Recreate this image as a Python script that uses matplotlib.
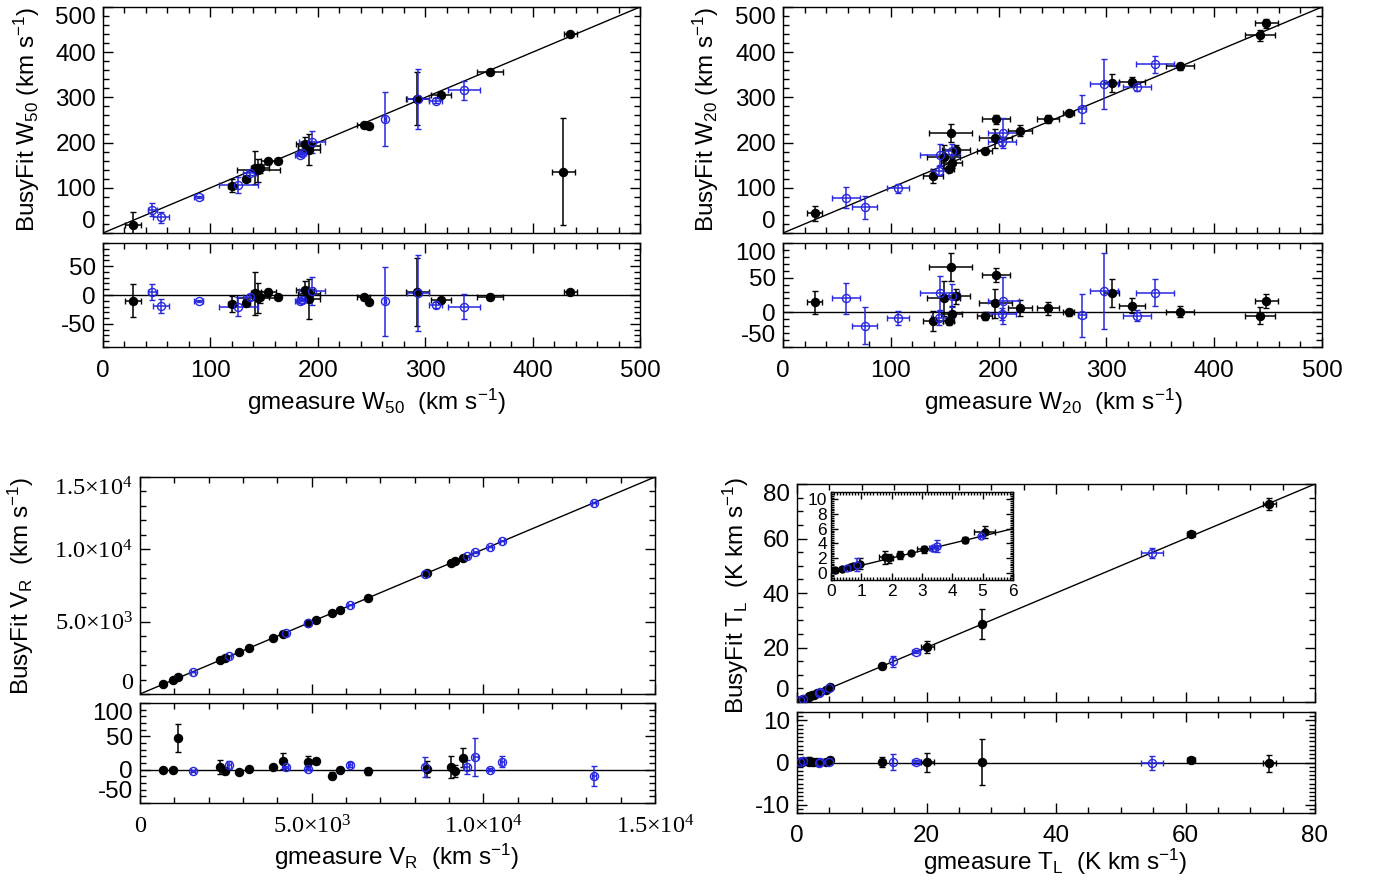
import numpy as np
import matplotlib
matplotlib.use('Agg')
import matplotlib.pyplot as plt
from matplotlib.ticker import MultipleLocator

plt.rcParams['font.family'] = 'Liberation Sans'
plt.rcParams['mathtext.default'] = 'regular'
plt.rcParams['axes.unicode_minus'] = False
plt.rcParams['font.size'] = 17.5

BLUE = '#2828e0'

# rows are (gmeasure, busyfit, gmeasure error, busyfit error)
w50_black = [(27.9, 18.2, 7.5, 29), (120.5, 104.5, 4, 14), (133.5, 120.5, 3, 5),
             (141.4, 144.4, 4, 37), (144.7, 138.7, 20, 26), (146.5, 143.0, 8, 10),
             (154.0, 158.6, 7, 6), (163.0, 160.0, 3, 3), (188.0, 196.6, 8, 16),
             (192.0, 193.0, 10, 10), (192.0, 184.6, 10, 35), (242.7, 238.7, 6, 4),
             (247.7, 236.3, 3, 3), (292.8, 297.4, 11, 59), (314.7, 305.7, 9, 4),
             (360.5, 356.5, 12, 5), (435.0, 439.6, 6, 4), (428.6, 135.7, 11, 118)]
w50_blue = [(46.0, 51.7, 4, 14), (54.0, 35.0, 7.5, 12), (89.0, 79.0, 4, 2),
            (126.0, 106.0, 18, 17), (136.5, 133.0, 6, 5), (183.0, 173.0, 4, 3),
            (185.0, 177.0, 4, 3), (194.6, 201.6, 12, 24), (262.6, 251.6, 1, 60),
            (293.5, 297.0, 10, 66), (310.0, 293.0, 6, 5), (336.0, 316.0, 15, 21)]

w20_black = [(29.5, 43.8, 7, 17), (139.0, 126.6, 9, 15), (153.7, 140.7, 5, 5),
             (156.4, 154.0, 10, 11), (149.0, 169.0, 15, 25), (155.4, 220.4, 20, 20),
             (160.7, 183.7, 13, 11), (187.0, 182.0, 7, 6), (197.0, 210.0, 15, 21),
             (198.0, 252.0, 13, 10), (220.0, 226.0, 11, 12), (246.0, 251.7, 10, 9),
             (265.0, 265.0, 5, 5), (305.0, 332.6, 7, 20), (324.0, 333.5, 12, 11),
             (368.0, 369.0, 13, 8), (442.5, 437.7, 14, 12), (448.5, 464.5, 11, 10)]
w20_blue = [(58.4, 78.4, 13, 23), (75.7, 56.7, 11.5, 26), (106.6, 98.6, 10, 10),
            (145.4, 173.4, 18, 24), (145.0, 137.4, 8, 10), (157.0, 181.0, 7, 17),
            (204.5, 221.5, 14, 34), (203.0, 200.6, 13, 8), (277.5, 273.5, 4, 31),
            (298.0, 329.0, 13, 55), (328.0, 323.0, 13, 8), (345.0, 373.6, 18, 19)]

vr_black = [(677, 677, 30, 2), (969, 969, 30, 2), (1115, 1162, 30, 21),
            (2323, 2327, 30, 10), (2469, 2467, 30, 5), (2896, 2892.5, 30, 3),
            (3177, 3177.5, 30, 2), (3885, 3889, 30, 3), (4167, 4180, 30, 12),
            (4896, 4907, 30, 10), (5125, 5138, 30, 4), (5604, 5595, 30, 5),
            (5813, 5813, 30, 4), (6646, 6643.5, 30, 5), (8354, 8355.5, 30, 12),
            (9063, 9067, 30, 17), (9188, 9186, 30, 9), (9417, 9435, 30, 14)]
vr_blue = [(1542, 1540, 60, 2), (2604, 2610.6, 60, 6), (4240, 4244, 60, 2),
           (4896, 4897.5, 60, 2), (6115, 6122.6, 60, 4), (8292, 8296, 60, 15),
           (9510, 9514, 60, 11), (9771, 9790, 60, 29), (10188, 10188, 60, 2),
           (10552, 10564, 60, 8), (13229, 13219, 60, 15)]

tl_black = [(0.12, 0.30, 0.03, 0.1), (0.36, 0.50, 0.05, 0.15), (0.64, 0.78, 0.05, 0.15),
            (0.72, 0.85, 0.05, 0.2), (0.94, 1.25, 0.05, 0.7), (1.79, 2.10, 0.2, 0.9),
            (1.90, 1.95, 0.15, 0.6), (2.26, 2.40, 0.08, 0.5), (2.63, 2.72, 0.05, 0.25),
            (3.07, 3.20, 0.25, 0.5), (4.41, 4.50, 0.05, 0.4), (5.07, 5.55, 0.35, 0.8),
            (13.2, 13.25, 0.4, 1.2), (20.1, 20.15, 1.0, 2.2), (28.6, 28.8, 0.3, 5.5),
            (60.8, 61.5, 0.6, 0.6), (72.9, 72.7, 1.0, 2.1)]
tl_blue = [(0.53, 0.70, 0.03, 0.15), (0.85, 1.10, 0.05, 0.85), (3.37, 3.30, 0.15, 0.3),
           (3.48, 3.60, 0.10, 0.8), (4.96, 5.00, 0.05, 0.2), (14.8, 14.9, 0.1, 1.9),
           (18.4, 18.5, 0.6, 0.5), (54.8, 54.7, 1.7, 1.7)]

vr_ticks = [0, 5000, 10000, 15000]
vr_ticklabels = ['0', '5.0×10$^3$', '1.0×10$^4$', '1.5×10$^4$']

W, H = 1374, 881
fig = plt.figure(figsize=(W / 100, H / 100), dpi=100)
shifted = []  # axes whose end y labels are pushed inside the box


def box(l, t, r, b):
    return fig.add_axes([l / W, 1 - b / H, (r - l) / W, (b - t) / H])


def ticks_between(lo, hi, step):
    first = np.ceil(lo / step - 1e-9) * step
    return np.arange(first, hi + step * 1e-6, step)


def idl_axes(ax, xlim, ylim, xmaj, xmin, ymaj, ymin, xlabels=True, small=False):
    ax.set_xticks(ticks_between(*xlim, xmaj))
    ax.set_yticks(ticks_between(*ylim, ymaj))
    ax.xaxis.set_minor_locator(MultipleLocator(xmin))
    ax.yaxis.set_minor_locator(MultipleLocator(ymin))
    ax.set_xlim(xlim)
    ax.set_ylim(ylim)
    ax.tick_params(which='both', direction='in', top=True, right=True, width=1)
    if small:
        ax.tick_params(which='major', length=5, labelsize=12.5, pad=3)
        ax.tick_params(which='minor', length=2.5)
    else:
        ax.tick_params(which='major', length=7.5)
        ax.tick_params(which='minor', length=4)
        ax.tick_params(axis='x', pad=9)
        ax.tick_params(axis='y', pad=5)
    if not xlabels:
        ax.tick_params(axis='x', labelbottom=False)
    for s in ax.spines.values():
        s.set_linewidth(1)


def end_labels(ax):
    # IDL pushes the extreme y labels inside the box
    lo, hi = ax.get_ylim()
    for t in ax.yaxis.get_major_ticks():
        loc = t.get_loc()
        if abs(loc - lo) < 1e-6 * (hi - lo):
            t.label1.set_va('bottom')
        elif abs(loc - hi) < 1e-6 * (hi - lo):
            t.label1.set_va('top')


def plot_set(ax, rows, color, resid=False):
    gm, bf, gm_err, bf_err = np.array(rows, dtype=float).T
    y = bf - gm if resid else bf
    face = color if color == 'k' else 'none'
    ax.errorbar(gm, y, xerr=gm_err, yerr=bf_err, fmt='o', ms=5.8, mfc=face,
                mec=color, mew=1, ecolor=color, elinewidth=1.1, capsize=2.5,
                capthick=1.1, zorder=3)


def panel(main_box, res_box, black, blue, lim, maj, mnr, rlim, rmaj, rmnr):
    ax = box(*main_box)
    ax.plot(lim, lim, color='k', lw=1, zorder=2)
    plot_set(ax, black, 'k')
    plot_set(ax, blue, BLUE)
    idl_axes(ax, lim, lim, maj, mnr, maj, mnr, xlabels=False)

    rx = box(*res_box)
    rx.axhline(0, color='k', lw=1, zorder=2)
    plot_set(rx, black, 'k', resid=True)
    plot_set(rx, blue, BLUE, resid=True)
    idl_axes(rx, lim, rlim, maj, mnr, rmaj, rmnr)
    shifted.extend([ax, rx])
    return ax, rx


def ftext(x, y, s, rot=0):
    fig.text(x / W, 1 - y / H, s, rotation=rot, ha='center', va='center')


# W50
panel((103, 7, 640, 233), (103, 243, 640, 347), w50_black, w50_blue,
      (0, 500), 100, 20, (-90, 90), 50, 10)
ftext(27, 120, 'BusyFit W$_{50}$ (km s$^{-1}$)', 90)
ftext(376, 402, 'gmeasure W$_{50}$  (km s$^{-1}$)')

# W20
panel((783, 7, 1322, 233), (783, 243, 1322, 347), w20_black, w20_blue,
      (0, 500), 100, 20, (-50, 100), 50, 10)
ftext(706, 120, 'BusyFit W$_{20}$ (km s$^{-1}$)', 90)
ftext(1053, 402, 'gmeasure W$_{20}$  (km s$^{-1}$)')

# V_R
ax, rx = panel((140, 477, 655, 694), (140, 703, 655, 803), vr_black, vr_blue,
               (0, 15000), 5000, 1000, (-50, 100), 50, 10)
for a in (ax, rx):
    a.set_xticks(vr_ticks)
    a.set_xticklabels(vr_ticklabels, fontfamily='Liberation Serif')
    a.tick_params(axis='x', labelbottom=(a is rx))
ax.set_yticks(vr_ticks)
ax.set_yticklabels(vr_ticklabels, fontfamily='Liberation Serif')
ftext(21, 586, 'BusyFit V$_R$  (km s$^{-1}$)', 90)
ftext(397, 857, 'gmeasure V$_R$  (km s$^{-1}$)')

# T_L
ax, rx = panel((797, 484, 1315, 702), (797, 712, 1315, 813), tl_black, tl_blue,
               (0, 80), 20, 5, (-12, 12), 10, 1)
ftext(736, 595, 'BusyFit T$_L$  (K km s$^{-1}$)', 90)
ftext(1055, 862, 'gmeasure T$_L$  (K km s$^{-1}$)')

ins = box(831, 492, 1013, 580)
ins.plot((0, 6), (0, 6), color='k', lw=1, zorder=2)
plot_set(ins, tl_black, 'k')
plot_set(ins, tl_blue, BLUE)
for line in ins.lines:
    line.set_markersize(5)
idl_axes(ins, (0, 6), (-1, 11), 1, 0.1, 2, 0.25, small=True)

fig.canvas.draw()
for a in shifted:
    end_labels(a)

fig.savefig('out.png', dpi=100)
